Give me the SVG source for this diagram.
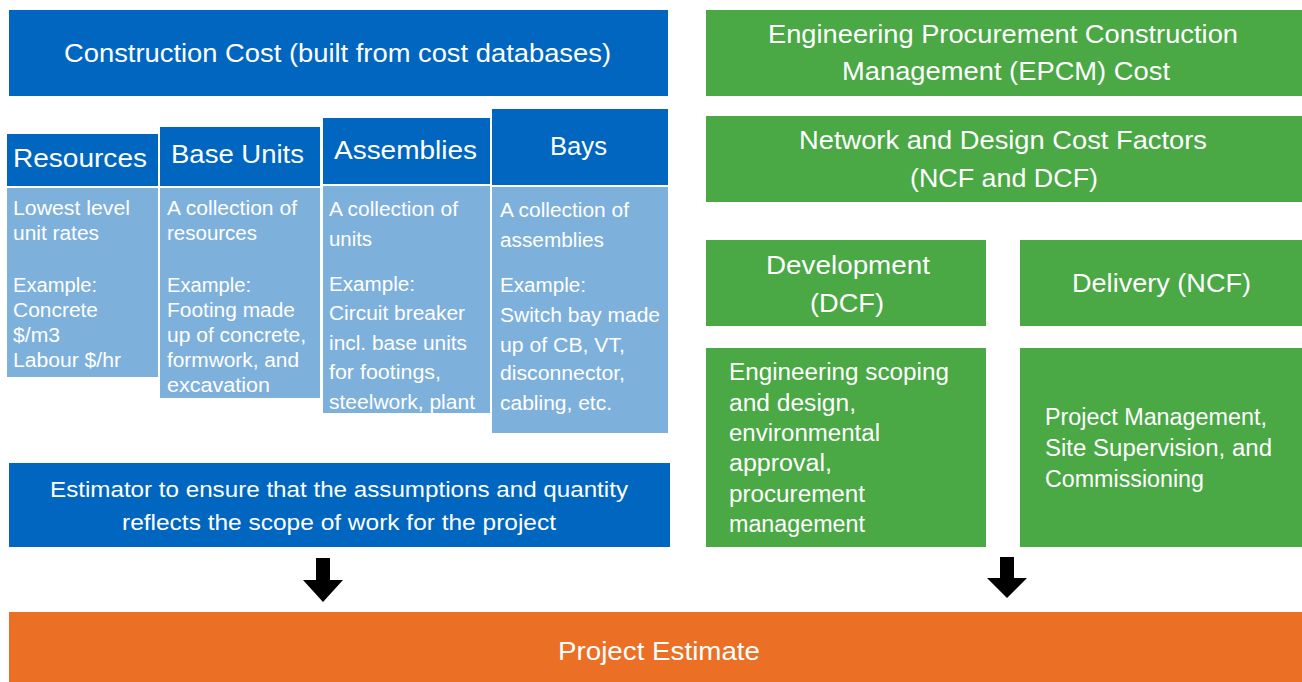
<svg xmlns="http://www.w3.org/2000/svg" width="1302" height="682" viewBox="0 0 1302 682">
  <style>
    .dark { fill: #0066c0; }
    .light { fill: #7eb0dc; }
    .green { fill: #4aa845; }
    .orange { fill: #eb7025; }
    text { font-family: "Liberation Sans", Arial, sans-serif; fill: #ffffff; }
    .h { font-size: 26px; }
    .b { font-size: 20px; }
    .g { font-size: 23px; }
    .e { font-size: 22px; }
    .mid { text-anchor: middle; }
  </style>
  <rect width="1302" height="682" fill="#ffffff"/>

  <!-- Construction cost column -->
  <g id="construction-cost">
    <rect class="dark" x="9" y="10" width="659" height="86"/>
    <text class="h" x="64" y="62" textLength="547" lengthAdjust="spacingAndGlyphs">Construction Cost (built from cost databases)</text>
  </g>

  <g id="resources">
    <rect class="dark" x="7" y="134" width="151" height="52"/>
    <text class="h" x="13" y="167" textLength="134" lengthAdjust="spacingAndGlyphs">Resources</text>
    <rect class="light" x="7" y="188" width="151" height="189"/>
    <text class="b" x="13" y="215" textLength="117" lengthAdjust="spacingAndGlyphs">Lowest level</text>
    <text class="b" x="13" y="240" textLength="86" lengthAdjust="spacingAndGlyphs">unit rates</text>
    <text class="b" x="13" y="292" textLength="84" lengthAdjust="spacingAndGlyphs">Example:</text>
    <text class="b" x="13" y="317" textLength="85" lengthAdjust="spacingAndGlyphs">Concrete</text>
    <text class="b" x="13" y="342" textLength="47" lengthAdjust="spacingAndGlyphs">$/m3</text>
    <text class="b" x="13" y="367" textLength="108" lengthAdjust="spacingAndGlyphs">Labour $/hr</text>
  </g>

  <g id="base-units">
    <rect class="dark" x="160" y="127" width="160" height="59"/>
    <text class="h" x="171" y="163" textLength="133" lengthAdjust="spacingAndGlyphs">Base Units</text>
    <rect class="light" x="160" y="188" width="160" height="210"/>
    <text class="b" x="167" y="215" textLength="130" lengthAdjust="spacingAndGlyphs">A collection of</text>
    <text class="b" x="167" y="240" textLength="90" lengthAdjust="spacingAndGlyphs">resources</text>
    <text class="b" x="167" y="292" textLength="84" lengthAdjust="spacingAndGlyphs">Example:</text>
    <text class="b" x="167" y="317" textLength="128" lengthAdjust="spacingAndGlyphs">Footing made</text>
    <text class="b" x="167" y="342" textLength="139" lengthAdjust="spacingAndGlyphs">up of concrete,</text>
    <text class="b" x="167" y="367" textLength="132" lengthAdjust="spacingAndGlyphs">formwork, and</text>
    <text class="b" x="167" y="392" textLength="103" lengthAdjust="spacingAndGlyphs">excavation</text>
  </g>

  <g id="assemblies">
    <rect class="dark" x="323" y="118" width="167" height="66"/>
    <text class="h" x="334" y="159" textLength="143" lengthAdjust="spacingAndGlyphs">Assemblies</text>
    <rect class="light" x="323" y="186" width="167" height="227"/>
    <text class="b" x="329" y="216" textLength="129" lengthAdjust="spacingAndGlyphs">A collection of</text>
    <text class="b" x="329" y="246" textLength="43" lengthAdjust="spacingAndGlyphs">units</text>
    <text class="b" x="329" y="291" textLength="86" lengthAdjust="spacingAndGlyphs">Example:</text>
    <text class="b" x="329" y="320" textLength="136" lengthAdjust="spacingAndGlyphs">Circuit breaker</text>
    <text class="b" x="329" y="350" textLength="138" lengthAdjust="spacingAndGlyphs">incl. base units</text>
    <text class="b" x="329" y="379" textLength="112" lengthAdjust="spacingAndGlyphs">for footings,</text>
    <text class="b" x="329" y="409" textLength="146" lengthAdjust="spacingAndGlyphs">steelwork, plant</text>
  </g>

  <g id="bays">
    <rect class="dark" x="492" y="109" width="176" height="76"/>
    <text class="h" x="550" y="155" textLength="57" lengthAdjust="spacingAndGlyphs">Bays</text>
    <rect class="light" x="492" y="187" width="176" height="246"/>
    <text class="b" x="500" y="217" textLength="129" lengthAdjust="spacingAndGlyphs">A collection of</text>
    <text class="b" x="500" y="247" textLength="104" lengthAdjust="spacingAndGlyphs">assemblies</text>
    <text class="b" x="500" y="292" textLength="86" lengthAdjust="spacingAndGlyphs">Example:</text>
    <text class="b" x="500" y="322" textLength="160" lengthAdjust="spacingAndGlyphs">Switch bay made</text>
    <text class="b" x="500" y="352" textLength="125" lengthAdjust="spacingAndGlyphs">up of CB, VT,</text>
    <text class="b" x="500" y="380" textLength="125" lengthAdjust="spacingAndGlyphs">disconnector,</text>
    <text class="b" x="500" y="410" textLength="112" lengthAdjust="spacingAndGlyphs">cabling, etc.</text>
  </g>

  <g id="estimator">
    <rect class="dark" x="9" y="463" width="661" height="84"/>
    <text class="e" x="50" y="497" textLength="578" lengthAdjust="spacingAndGlyphs">Estimator to ensure that the assumptions and quantity</text>
    <text class="e" x="122" y="530" textLength="434" lengthAdjust="spacingAndGlyphs">reflects the scope of work for the project</text>
  </g>

  <!-- EPCM column -->
  <g id="epcm-cost">
    <rect class="green" x="706" y="10" width="596" height="86"/>
    <text class="h" x="768" y="43" textLength="470" lengthAdjust="spacingAndGlyphs">Engineering Procurement Construction</text>
    <text class="h" x="842" y="80" textLength="328" lengthAdjust="spacingAndGlyphs">Management (EPCM) Cost</text>
  </g>

  <g id="cost-factors">
    <rect class="green" x="706" y="116" width="596" height="86"/>
    <text class="h" x="799" y="149" textLength="408" lengthAdjust="spacingAndGlyphs">Network and Design Cost Factors</text>
    <text class="h" x="910" y="187" textLength="188" lengthAdjust="spacingAndGlyphs">(NCF and DCF)</text>
  </g>

  <g id="development">
    <rect class="green" x="706" y="240" width="280" height="86"/>
    <text class="h" x="766" y="274" textLength="164" lengthAdjust="spacingAndGlyphs">Development</text>
    <text class="h" x="810" y="312" textLength="74" lengthAdjust="spacingAndGlyphs">(DCF)</text>
    <rect class="green" x="706" y="348" width="280" height="199"/>
    <text class="g" x="729" y="380" textLength="220" lengthAdjust="spacingAndGlyphs">Engineering scoping</text>
    <text class="g" x="729" y="411" textLength="127" lengthAdjust="spacingAndGlyphs">and design,</text>
    <text class="g" x="729" y="441" textLength="151" lengthAdjust="spacingAndGlyphs">environmental</text>
    <text class="g" x="729" y="471" textLength="103" lengthAdjust="spacingAndGlyphs">approval,</text>
    <text class="g" x="729" y="502" textLength="136" lengthAdjust="spacingAndGlyphs">procurement</text>
    <text class="g" x="729" y="532" textLength="136" lengthAdjust="spacingAndGlyphs">management</text>
  </g>

  <g id="delivery">
    <rect class="green" x="1020" y="240" width="282" height="86"/>
    <text class="h" x="1072" y="292" textLength="179" lengthAdjust="spacingAndGlyphs">Delivery (NCF)</text>
    <rect class="green" x="1020" y="348" width="282" height="199"/>
    <text class="g" x="1045" y="425" textLength="222" lengthAdjust="spacingAndGlyphs">Project Management,</text>
    <text class="g" x="1045" y="456" textLength="227" lengthAdjust="spacingAndGlyphs">Site Supervision, and</text>
    <text class="g" x="1045" y="487" textLength="159" lengthAdjust="spacingAndGlyphs">Commissioning</text>
  </g>

  <g id="project-estimate">
    <rect class="orange" x="9" y="612" width="1293" height="70"/>
    <text class="h" x="558" y="660" textLength="202" lengthAdjust="spacingAndGlyphs">Project Estimate</text>
  </g>

  <!-- Block arrows feeding the estimate -->
  <g id="connectors" fill="#000000">
    <polygon points="316,558 330,558 330,580 343,580 323,602 303,580 316,580"/>
    <polygon points="1000,557 1014,557 1014,578 1027,578 1007,598 987,578 1000,578"/>
  </g>
</svg>
